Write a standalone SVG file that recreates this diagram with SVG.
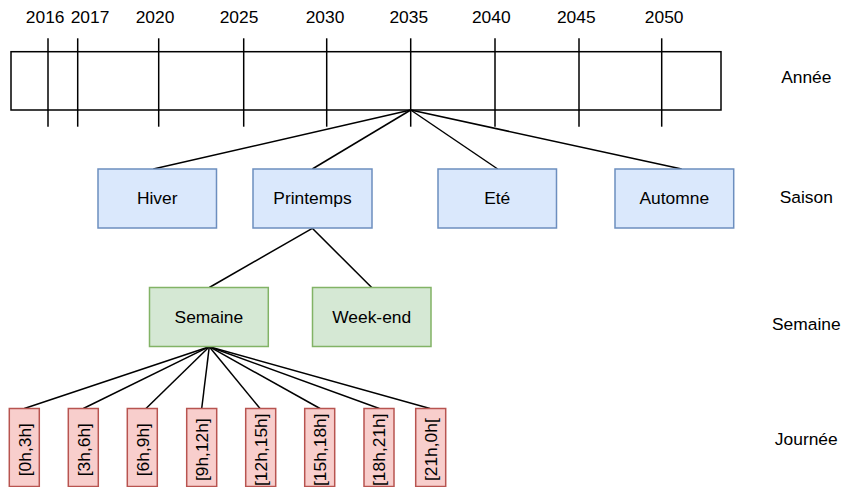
<svg xmlns="http://www.w3.org/2000/svg" width="841" height="487" viewBox="0 0 841 487">
<style>
text{font-family:"Liberation Sans",Arial,sans-serif;font-size:17.4px;fill:#000;text-anchor:middle}
.ln{stroke:#000;stroke-width:1.5;fill:none}
.blue{fill:#dae8fc;stroke:#6c8ebf;stroke-width:1.5}
.green{fill:#d5e8d4;stroke:#82b366;stroke-width:1.5}
.red{fill:#f8cecc;stroke:#b85450;stroke-width:1.5}
</style>
<rect width="841" height="487" fill="#fff"/>
<g id="timeline">
<rect x="11" y="51.7" width="710" height="58.3" class="ln"/>
<g class="ln">
<line x1="48" y1="38.3" x2="48" y2="126.7"/>
<line x1="77.7" y1="38.3" x2="77.7" y2="126.7"/>
<line x1="158.7" y1="38.3" x2="158.7" y2="126.7"/>
<line x1="243.7" y1="38.3" x2="243.7" y2="126.7"/>
<line x1="326.7" y1="38.3" x2="326.7" y2="126.7"/>
<line x1="410.7" y1="38.3" x2="410.7" y2="126.7"/>
<line x1="495" y1="38.3" x2="495" y2="126.7"/>
<line x1="579" y1="38.3" x2="579" y2="126.7"/>
<line x1="661.7" y1="38.3" x2="661.7" y2="126.7"/>
</g>
<text x="45.2" y="23.3">2016</text>
<text x="90" y="23.3">2017</text>
<text x="155" y="23.3">2020</text>
<text x="239" y="23.3">2025</text>
<text x="325" y="23.3">2030</text>
<text x="408.8" y="23.3">2035</text>
<text x="491.3" y="23.3">2040</text>
<text x="576.3" y="23.3">2045</text>
<text x="664.2" y="23.3">2050</text>
</g>
<g id="connectors" class="ln">
<line x1="410.7" y1="110" x2="153.3" y2="169"/>
<line x1="410.7" y1="110" x2="312.3" y2="169"/>
<line x1="410.7" y1="110" x2="497.7" y2="169"/>
<line x1="410.7" y1="110" x2="681.7" y2="169"/>
<line x1="312.3" y1="228.3" x2="209.3" y2="287.5"/>
<line x1="312.3" y1="228.3" x2="371.7" y2="287.5"/>
<line x1="209.3" y1="346.7" x2="24.3" y2="408.5"/>
<line x1="209.3" y1="346.7" x2="83.3" y2="408.5"/>
<line x1="209.3" y1="346.7" x2="146" y2="408.5"/>
<line x1="209.3" y1="346.7" x2="201.7" y2="408.5"/>
<line x1="209.3" y1="346.7" x2="260" y2="408.5"/>
<line x1="209.3" y1="346.7" x2="320" y2="408.5"/>
<line x1="209.3" y1="346.7" x2="379.3" y2="408.5"/>
<line x1="209.3" y1="346.7" x2="430" y2="408.5"/>
</g>
<g id="hiver"><rect x="98" y="169" width="118.5" height="59" class="blue"/><text x="157.2" y="204.3">Hiver</text></g>
<g id="printemps"><rect x="253" y="169" width="119" height="59" class="blue"/><text x="312.5" y="204.3">Printemps</text></g>
<g id="ete"><rect x="438" y="169" width="118.5" height="59" class="blue"/><text x="497.2" y="204.3">Eté</text></g>
<g id="automne"><rect x="615" y="169" width="118.7" height="59" class="blue"/><text x="674.3" y="204.3">Automne</text></g>
<g id="semaine"><rect x="149.5" y="287.5" width="118.8" height="59" class="green"/><text x="208.9" y="323">Semaine</text></g>
<g id="weekend"><rect x="312.5" y="287.5" width="118.5" height="59" class="green"/><text x="371.7" y="323">Week-end</text></g>
<g id="h0"><rect x="9.3" y="408.5" width="30" height="78" class="red"/><text transform="translate(24.3,449.7) rotate(-90)" dy="6.2">[0h,3h]</text></g>
<g id="h3"><rect x="68.3" y="408.5" width="30" height="78" class="red"/><text transform="translate(83.3,449.7) rotate(-90)" dy="6.2">[3h,6h]</text></g>
<g id="h6"><rect x="127.3" y="408.5" width="30" height="78" class="red"/><text transform="translate(142.3,449.7) rotate(-90)" dy="6.2">[6h,9h]</text></g>
<g id="h9"><rect x="186.7" y="408.5" width="30" height="78" class="red"/><text transform="translate(201.7,449.7) rotate(-90)" dy="6.2">[9h,12h]</text></g>
<g id="h12"><rect x="245.7" y="408.5" width="30" height="78" class="red"/><text transform="translate(260.7,449.7) rotate(-90)" dy="6.2">[12h,15h]</text></g>
<g id="h15"><rect x="304.7" y="408.5" width="30" height="78" class="red"/><text transform="translate(319.7,449.7) rotate(-90)" dy="6.2">[15h,18h]</text></g>
<g id="h18"><rect x="364" y="408.5" width="30" height="78" class="red"/><text transform="translate(379,449.7) rotate(-90)" dy="6.2">[18h,21h]</text></g>
<g id="h21"><rect x="415.7" y="408.5" width="30" height="78" class="red"/><text transform="translate(430.7,449.7) rotate(-90)" dy="6.2">[21h,0h[</text></g>
<g id="labels">
<text x="806.3" y="83.3">Année</text>
<text x="806.3" y="203.3">Saison</text>
<text x="806.3" y="329.5">Semaine</text>
<text x="806.3" y="445">Journée</text>
</g>
</svg>
